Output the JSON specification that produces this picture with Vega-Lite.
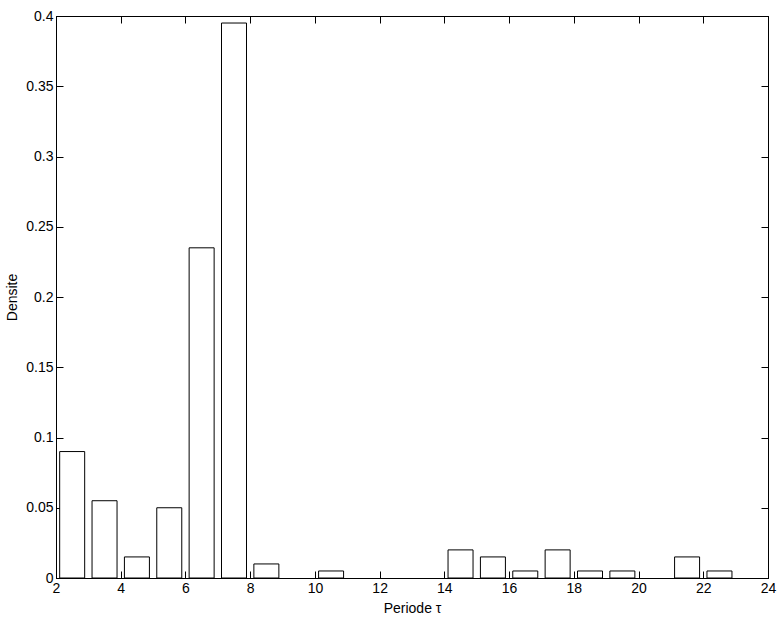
{
  "$schema": "https://vega.github.io/schema/vega-lite/v6.json",
  "width": 712,
  "height": 562,
  "autosize": "none",
  "padding": {"left": 56, "top": 16, "right": 16, "bottom": 39},
  "background": "white",
  "config": {
    "view": {"stroke": "black", "strokeWidth": 1},
    "font": "Liberation Sans",
    "axis": {
      "domainColor": "black",
      "tickColor": "black",
      "labelColor": "black",
      "titleColor": "black",
      "grid": false,
      "labelFont": "Liberation Sans",
      "titleFont": "Liberation Sans",
      "labelFontSize": 14,
      "titleFontSize": 14,
      "titleFontWeight": "normal",
      "tickSize": -7,
      "tickWidth": 1,
      "domainWidth": 1
    }
  },
  "data": {
    "values": [
      {"periode": 2.5, "densite": 0.09},
      {"periode": 3.5, "densite": 0.055},
      {"periode": 4.5, "densite": 0.015},
      {"periode": 5.5, "densite": 0.05},
      {"periode": 6.5, "densite": 0.235},
      {"periode": 7.5, "densite": 0.395},
      {"periode": 8.5, "densite": 0.01},
      {"periode": 10.5, "densite": 0.005},
      {"periode": 14.5, "densite": 0.02},
      {"periode": 15.5, "densite": 0.015},
      {"periode": 16.5, "densite": 0.005},
      {"periode": 17.5, "densite": 0.02},
      {"periode": 18.5, "densite": 0.005},
      {"periode": 19.5, "densite": 0.005},
      {"periode": 21.5, "densite": 0.015},
      {"periode": 22.5, "densite": 0.005}
    ]
  },
  "resolve": {"axis": {"x": "independent", "y": "independent"}},
  "layer": [
    {
      "mark": {"type": "bar", "size": 25, "fill": "white", "stroke": "black", "strokeWidth": 1},
      "encoding": {
        "x": {
          "field": "periode", "type": "quantitative",
          "scale": {"domain": [2, 24], "nice": false, "zero": false, "padding": 0},
          "axis": {"orient": "bottom", "values": [2,4,6,8,10,12,14,16,18,20,22,24], "title": "Periode τ", "labelPadding": 10, "titlePadding": 6, "labelFlush": false}
        },
        "y": {
          "field": "densite", "type": "quantitative",
          "scale": {"domain": [0, 0.4], "nice": false, "padding": 0},
          "axis": {"orient": "left", "values": [0,0.05,0.1,0.15,0.2,0.25,0.3,0.35,0.4], "format": "~g", "title": "Densite", "labelPadding": 10, "titlePadding": 6, "labelFlush": false}
        }
      }
    },
    {
      "mark": {"type": "point", "opacity": 0},
      "encoding": {
        "x": {
          "field": "periode", "type": "quantitative",
          "axis": {"orient": "top", "values": [2,4,6,8,10,12,14,16,18,20,22,24], "labels": false, "title": null}
        },
        "y": {
          "field": "densite", "type": "quantitative",
          "axis": {"orient": "right", "values": [0,0.05,0.1,0.15,0.2,0.25,0.3,0.35,0.4], "labels": false, "title": null}
        }
      }
    }
  ]
}
